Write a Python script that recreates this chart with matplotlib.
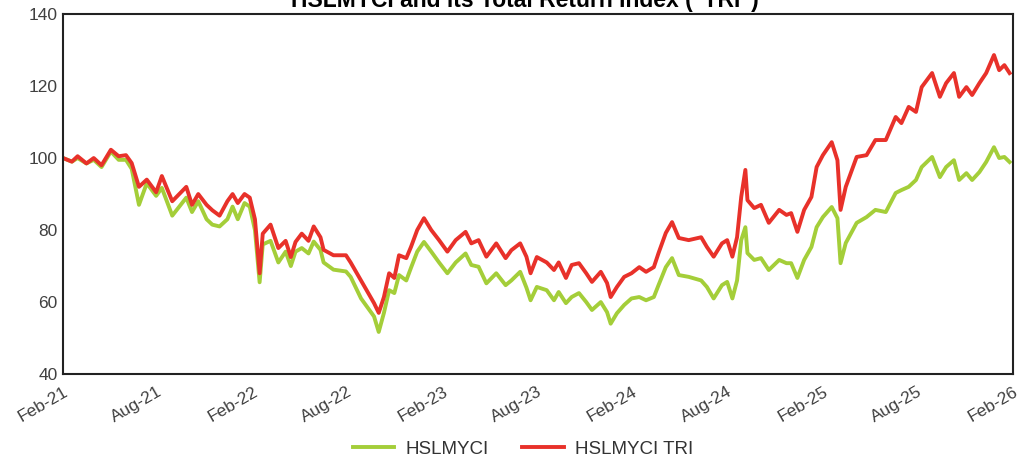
import pandas as pd
import matplotlib.pyplot as plt
import matplotlib.dates as mdates

plt.rcParams['font.family'] = ['Liberation Sans', 'DejaVu Sans']

# dates, with the index level of both series
dates = [
    "2021-02-01", "2021-02-18", "2021-03-01", "2021-03-18", "2021-04-01", "2021-04-16",
    "2021-05-04", "2021-05-19", "2021-06-02", "2021-06-13", "2021-06-27", "2021-07-12",
    "2021-07-30", "2021-08-10", "2021-08-30", "2021-09-26", "2021-10-07", "2021-10-19",
    "2021-11-04", "2021-11-15", "2021-11-29", "2021-12-14", "2021-12-24", "2022-01-03",
    "2022-01-16", "2022-01-26", "2022-02-05", "2022-02-14", "2022-02-20", "2022-03-07",
    "2022-03-22", "2022-04-05", "2022-04-15", "2022-04-24", "2022-05-06", "2022-05-19",
    "2022-05-29", "2022-06-11", "2022-06-17", "2022-07-06", "2022-07-30", "2022-08-08",
    "2022-08-28", "2022-09-09", "2022-09-22", "2022-10-01", "2022-10-11", "2022-10-21",
    "2022-10-31", "2022-11-09", "2022-11-23", "2022-12-02", "2022-12-14", "2022-12-27",
    "2023-01-10", "2023-01-25", "2023-02-10", "2023-02-26", "2023-03-17", "2023-03-28",
    "2023-04-11", "2023-04-26", "2023-05-15", "2023-06-02", "2023-06-13", "2023-06-30",
    "2023-07-12", "2023-07-20", "2023-08-01", "2023-08-20", "2023-09-03", "2023-09-12",
    "2023-09-26", "2023-10-07", "2023-10-21", "2023-11-04", "2023-11-15", "2023-12-02",
    "2023-12-14", "2023-12-21", "2024-01-02", "2024-01-16", "2024-01-30", "2024-02-14",
    "2024-02-27", "2024-03-13", "2024-03-22", "2024-04-05", "2024-04-17", "2024-04-30",
    "2024-05-19", "2024-06-12", "2024-06-23", "2024-07-06", "2024-07-22", "2024-08-01",
    "2024-08-11", "2024-08-20", "2024-08-28", "2024-09-05", "2024-09-09", "2024-09-22",
    "2024-10-05", "2024-10-20", "2024-11-09", "2024-11-23", "2024-12-02", "2024-12-14",
    "2024-12-27", "2025-01-10", "2025-01-20", "2025-02-01", "2025-02-18", "2025-03-01",
    "2025-03-07", "2025-03-17", "2025-04-07", "2025-04-26", "2025-05-13", "2025-06-02",
    "2025-06-21", "2025-07-02", "2025-07-16", "2025-07-30", "2025-08-10", "2025-08-30",
    "2025-09-14", "2025-09-26", "2025-10-11", "2025-10-21", "2025-11-04", "2025-11-15",
    "2025-11-29", "2025-12-12", "2025-12-27", "2026-01-06", "2026-01-16", "2026-01-26",
]

hslmyci = [
    100.0, 99.0, 100.0, 98.5, 99.5, 97.5, 101.8, 99.5, 99.5, 97.0, 87.0, 93.0,
    89.5, 91.7, 84.0, 89.0, 85.0, 88.0, 83.0, 81.5, 81.0, 83.0, 86.5, 83.0,
    87.5, 86.5, 80.0, 65.5, 76.0, 77.0, 71.0, 74.0, 70.0, 74.0, 75.0, 73.5,
    76.8, 74.5, 71.0, 69.0, 68.5, 67.0, 61.0, 58.6, 56.0, 51.7, 57.0, 63.3,
    62.5, 67.5, 66.0, 69.5, 74.0, 76.7, 74.0, 71.0, 68.0, 71.0, 73.5, 70.3,
    69.8, 65.2, 68.0, 64.7, 66.0, 68.4, 64.0, 60.5, 64.2, 63.3, 60.5, 62.8,
    59.7, 61.4, 62.5, 60.0, 57.8, 60.0, 57.2, 54.0, 56.9, 59.2, 61.0, 61.4,
    60.5, 61.4, 64.7, 69.7, 72.2, 67.5, 67.0, 66.0, 64.2, 61.0, 64.7, 65.6,
    61.0, 66.0, 77.2, 80.8, 73.6, 71.7, 72.2, 68.9, 71.7, 70.8, 70.8, 66.7,
    71.7, 75.3, 80.8, 83.6, 86.4, 83.3, 70.8, 76.4, 82.0, 83.6, 85.6, 85.0,
    90.3, 91.1, 92.0, 93.9, 97.5, 100.3, 94.7, 97.5, 99.4, 93.9, 95.8, 93.9,
    96.1, 98.9, 103.0, 100.0, 100.3, 98.9,
]

hslmyci_tri = [
    100.0, 99.0, 100.5, 98.5, 100.0, 98.0, 102.3, 100.5, 100.8, 98.6, 92.0, 94.0,
    90.5, 95.0, 88.0, 92.0, 87.0, 90.0, 87.0, 85.5, 84.0, 88.0, 90.0, 87.5,
    90.0, 89.0, 83.0, 68.0, 79.0, 81.5, 75.0, 77.0, 72.5, 76.7, 79.0, 77.0,
    81.0, 78.0, 74.5, 73.0, 73.0, 71.0, 66.0, 63.0, 59.7, 57.0, 61.4, 68.0,
    66.7, 73.0, 72.2, 75.3, 80.0, 83.3, 80.0, 77.2, 74.0, 77.2, 79.5, 76.3,
    77.2, 72.6, 76.3, 72.2, 74.4, 76.3, 72.6, 68.0, 72.5, 71.0, 68.9, 71.0,
    66.7, 70.3, 70.8, 68.0, 65.6, 68.4, 65.3, 61.4, 64.2, 67.0, 68.0, 69.7,
    68.4, 69.7, 73.6, 79.2, 82.2, 77.8, 77.2, 78.0, 75.3, 72.6, 76.3, 77.2,
    72.6, 78.0, 89.2, 96.7, 88.3, 86.1, 87.0, 82.0, 85.6, 84.2, 84.7, 79.5,
    85.6, 89.2, 97.5, 100.8, 104.4, 99.4, 85.6, 92.0, 100.3, 100.8, 105.0, 105.0,
    111.4, 109.7, 114.2, 112.8, 119.7, 123.6, 117.0, 120.8, 123.6, 117.0, 119.7, 117.5,
    120.8, 123.6, 128.6, 124.4, 125.8, 123.6,
]

tick_dates = pd.date_range("2021-02-01", "2026-02-01", freq="6MS")

df = pd.DataFrame({"date": pd.to_datetime(dates), "HSLMYCI": hslmyci, "HSLMYCI TRI": hslmyci_tri})

fig, ax = plt.subplots(figsize=(10.25, 4.59), dpi=100)
fig.subplots_adjust(left=0.0615, right=0.988, top=0.9695, bottom=0.185)

ax.plot(df["date"], df["HSLMYCI"], color="#A4CE39", lw=2.8, label="HSLMYCI")
ax.plot(df["date"], df["HSLMYCI TRI"], color="#E8312A", lw=2.8, label="HSLMYCI TRI")

ax.set_xlim(tick_dates[0], tick_dates[-1])
ax.set_ylim(40, 140)
ax.set_yticks(range(40, 141, 20))
ax.set_xticks(tick_dates)
ax.xaxis.set_major_formatter(mdates.DateFormatter("%b-%y"))
ax.tick_params(axis="both", length=0, labelsize=12.5, colors="#404040")
ax.tick_params(axis="y", pad=4)
ax.tick_params(axis="x", pad=7)
plt.setp(ax.get_xticklabels(), rotation=30, ha="right", rotation_mode="anchor")

for s in ax.spines.values():
    s.set_color("#222222")
    s.set_linewidth(1.5)

# title sits partly above the top edge, as in the source image
fig.text(525 / 1025, 1 - 7 / 459, 'HSLMYCI and its Total Return Index ("TRI")',
         ha="center", va="baseline", fontsize=16.5, fontweight="bold")

fig.legend(loc="center", bbox_to_anchor=(523 / 1025, 1 - 449 / 459), ncol=2, frameon=False,
           fontsize=13.5, handlelength=2.2, handletextpad=0.6, columnspacing=1.8,
           borderpad=0, labelcolor="#333333")

fig.savefig("out.png", dpi=100)
